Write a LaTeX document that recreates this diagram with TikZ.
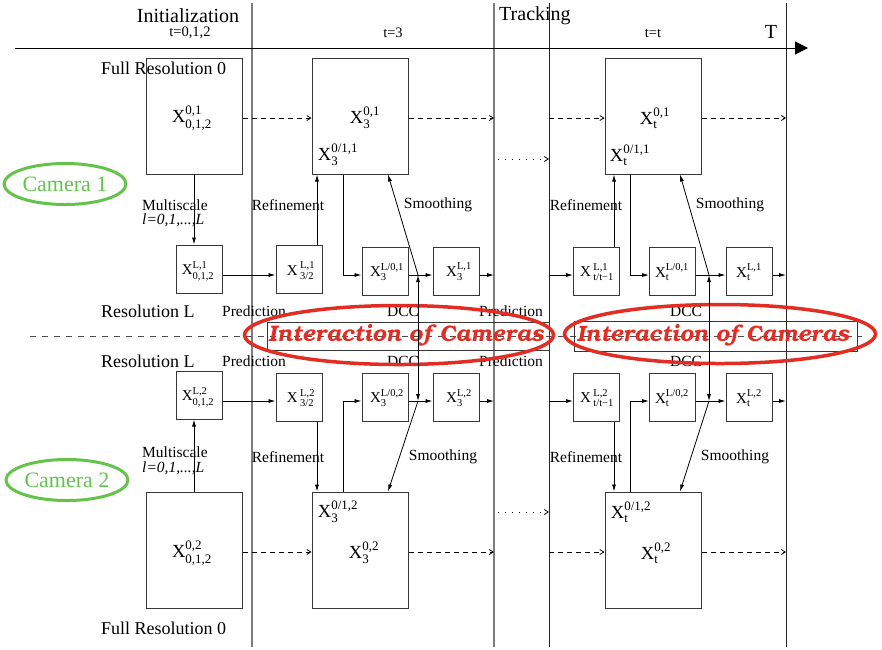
\documentclass[tikz,border=0pt]{standalone}
\usepackage[T1]{fontenc}
\usepackage{fontspec}
\setmainfont{Liberation Serif}
\usepackage{amsmath}
\usetikzlibrary{arrows.meta,calc,shapes.geometric}
\definecolor{camgreen}{RGB}{100,195,75}
\definecolor{intred}{RGB}{225,45,35}
\definecolor{vgray}{RGB}{125,125,125}
\definecolor{boxc}{RGB}{55,55,55}
\newcommand\lab[2]{$\text{X}^{\text{#1}}_{\text{#2}}$}
\newcommand\labsp[2]{$\text{X}\,^{\text{#1}}_{\text{#2}}$}
\newcommand\intfont{\fontencoding{T1}\fontfamily{pbk}\fontseries{db}\fontshape{it}\selectfont}
\tikzset{
  bigbox/.style={draw=boxc, line width=1pt, minimum width=96pt, minimum height=116pt, inner sep=0pt},
  smallbox/.style={draw=boxc, line width=1pt, minimum width=46pt, minimum height=48pt, inner sep=0pt},
  arr/.style={-{Latex[length=7pt,width=4pt]}, line width=0.8pt},
  dblarr/.style={{Latex[length=7pt,width=4pt]}-{Latex[length=7pt,width=4pt]}, line width=0.8pt},
  darr/.style={dash pattern=on 5pt off 4pt, -{Straight Barb[length=4pt,width=5pt]}, line width=0.8pt},
  dotarr/.style={dash pattern=on 1pt off 6pt, -{Straight Barb[length=4pt,width=5pt]}, line width=0.8pt},
  gline/.style={draw=vgray, line width=1.5pt},
  bline/.style={draw=black!85, line width=1pt},
  biglab/.style={inner sep=0pt, font=\fontsize{18.5}{22}\selectfont},
  smlab/.style={inner sep=0pt, font=\fontsize{15}{18}\selectfont},
  txt/.style={inner sep=0pt, font=\fontsize{15.5}{18}\selectfont},
  restxt/.style={inner sep=0pt, font=\fontsize{18}{21}\selectfont},
  head/.style={inner sep=0pt, font=\fontsize{20}{24}\selectfont},
  tlab/.style={inner sep=0pt, font=\fontsize{14.5}{16}\selectfont},
  cam/.style={ellipse, draw=camgreen, line width=3pt, minimum width=122pt, minimum height=41pt, inner sep=0pt, text=camgreen, font=\fontsize{22}{26}\selectfont},
  intell/.style={ellipse, draw=intred, line width=3.5pt, inner sep=0pt},
  intbox/.style={draw=boxc, line width=1pt, inner sep=0pt},
  inttxt/.style={inner sep=0pt, text=intred}
}
\begin{document}
\begin{tikzpicture}[x=1pt,y=-1pt]
\useasboundingbox (0,0) rectangle (882,649);
% helper coordinates
\coordinate (V1t) at (252,3); \coordinate (V1b) at (252,647);
\coordinate (V2t) at (494,3); \coordinate (V2b) at (494,647);
\coordinate (V3t) at (549,3); \coordinate (V3b) at (549,647);
\coordinate (V4t) at (786,3); \coordinate (V4b) at (786,647);
\coordinate (axL) at (15,48); \coordinate (axR) at (808,48);
\coordinate (r1) at (0,275); \coordinate (r2) at (0,401);
\coordinate (q1) at (0,118); \coordinate (q2) at (0,552);
\coordinate (xr1) at (317,0); \coordinate (xb1) at (343,0); \coordinate (xs1) at (388,0);
\coordinate (xr2) at (614,0); \coordinate (xb2) at (630,0); \coordinate (xs2) at (680,0);
\coordinate (s1) at (418,275); \coordinate (s2) at (418,401);
\coordinate (u1) at (709,275); \coordinate (u2) at (709,401);
\coordinate (dt1) at (498,159); \coordinate (dt2) at (498,512);
\coordinate (mdL) at (30,336); \coordinate (mdR) at (862,336);

% vertical lines and axis
\draw[gline] (V1t) -- (V1b);
\draw[gline] (V2t) -- (V2b);
\draw[bline] (V3t) -- (V3b);
\draw[bline] (V4t) -- (V4b);
\draw[line width=1pt, -{Triangle[length=13pt,width=13pt]}] (axL) -- (axR);

% headings
\node[head] (hInit) at (188,15.5) {Initialization};
\node[tlab] (t012) at (190,33) {t=0,1,2};
\node[tlab] (t3) at (393,33) {t=3};
\node[head, anchor=west] (hTrack) at (499,16) {Tracking};
\node[tlab] (tt) at (653,33) {t=t};
\node[head] (bigT) at (771,32) {T};

% resolution labels
\node[restxt, anchor=west] (fr1) at (101,68) {Full Resolution 0};
\node[restxt, anchor=west] (fr2) at (101,628) {Full Resolution 0};
\node[restxt, anchor=west] (rl1) at (101,311) {Resolution L};
\node[restxt, anchor=west] (rl2) at (101,361) {Resolution L};

% cameras
\node[cam] (cam1) at (65,184) {Camera 1};
\node[cam] (cam2) at (67,480) {Camera 2};

% middle dashed line
\draw[draw=black!70, line width=0.9pt, dash pattern=on 6pt off 6pt] (mdL) -- (mdR);

% big boxes camera 1
\node[bigbox] (A1) at (194,116) {};
\node[bigbox] (B1) at (360,116) {};
\node[bigbox] (C1) at (653,116) {};
\node[biglab] (lA1) at (192,118) {\lab{0,1}{0,1,2}};
\node[biglab] (lB1) at (365,118) {\lab{0,1}{3}};
\node[biglab] (lB1b) at (338,155) {\lab{0/1,1}{3}};
\node[biglab] (lC1) at (655,118) {\lab{0,1}{t}};
\node[biglab] (lC1b) at (630,155) {\lab{0/1,1}{t}};

% big boxes camera 2
\node[bigbox] (A2) at (194,550) {};
\node[bigbox] (B2) at (360,550) {};
\node[bigbox] (C2) at (653,550) {};
\node[biglab] (lA2) at (192,553) {\lab{0,2}{0,1,2}};
\node[biglab] (lB2) at (364,553) {\lab{0,2}{3}};
\node[biglab] (lB2b) at (338,512) {\lab{0/1,2}{3}};
\node[biglab] (lC2) at (656,553) {\lab{0,2}{t}};
\node[biglab] (lC2b) at (631,512) {\lab{0/1,2}{t}};

% small boxes camera 1
\node[smallbox] (a1) at (199,269) {};
\node[smallbox] (b1) at (299,269) {};
\node[smallbox] (c1) at (385,271) {};
\node[smallbox] (d1) at (456,271) {};
\node[smallbox] (e1) at (596.5,271) {};
\node[smallbox] (f1) at (672.5,271) {};
\node[smallbox] (g1) at (749,271) {};
\node[smlab] (la1) at (198,271) {\lab{L,1}{0,1,2}};
\node[smlab] (lb1) at (301,271) {\labsp{L,1}{3/2}};
\node[smlab] (lc1) at (387,272) {\lab{L/0,1}{3}};
\node[smlab] (ld1) at (459,272) {\lab{L,1}{3}};
\node[smlab] (le1) at (597,272) {\labsp{L,1}{t/t−1}};
\node[smlab] (lf1) at (672,272) {\lab{L/0,1}{t}};
\node[smlab] (lg1) at (749,272) {\lab{L,1}{t}};

% small boxes camera 2
\node[smallbox] (a2) at (199,395) {};
\node[smallbox] (b2) at (299,397) {};
\node[smallbox] (c2) at (385,397) {};
\node[smallbox] (d2) at (456,397) {};
\node[smallbox] (e2) at (596.5,397) {};
\node[smallbox] (f2) at (672.5,397) {};
\node[smallbox] (g2) at (749,397) {};
\node[smlab] (la2) at (198,397) {\lab{L,2}{0,1,2}};
\node[smlab] (lb2) at (301,398) {\labsp{L,2}{3/2}};
\node[smlab] (lc2) at (387,398) {\lab{L/0,2}{3}};
\node[smlab] (ld2) at (459,398) {\lab{L,2}{3}};
\node[smlab] (le2) at (597,398) {\labsp{L,2}{t/t−1}};
\node[smlab] (lf2) at (672,398) {\lab{L/0,2}{t}};
\node[smlab] (lg2) at (749,398) {\lab{L,2}{t}};

% text labels camera 1
\node[txt, anchor=west] (ms1) at (142,205) {Multiscale};
\node[txt, anchor=west] (ml1) at (142,220) {\textit{l=0,1,...,L}};
\node[txt] (rf1a) at (288,205) {Refinement};
\node[txt] (sm1a) at (438,205) {Smoothing};
\node[txt] (rf1b) at (586,205) {Refinement};
\node[txt] (sm1b) at (730,205) {Smoothing};
% text labels camera 2
\node[txt, anchor=west] (ms2) at (142,452) {Multiscale};
\node[txt, anchor=west] (ml2) at (142,468) {\textit{l=0,1,...,L}};
\node[txt] (rf2a) at (288,457) {Refinement};
\node[txt] (sm2a) at (443,457) {Smoothing};
\node[txt] (rf2b) at (586,457) {Refinement};
\node[txt] (sm2b) at (735,457) {Smoothing};

% prediction / DCC labels
\node[txt] (p1a) at (254,311) {Prediction};
\node[txt] (p1b) at (511,311) {Prediction};
\node[txt] (dc1a) at (403,311) {DCC};
\node[txt] (dc1b) at (686,311) {DCC};
\node[txt] (p2a) at (254,361) {Prediction};
\node[txt] (p2b) at (511,361) {Prediction};
\node[txt] (dc2a) at (403,361) {DCC};
\node[txt] (dc2b) at (686,361) {DCC};

% interaction boxes
\node[intbox, minimum width=282pt, minimum height=28pt] (R1) at (408,336) {};
\node[intbox, minimum width=283pt, minimum height=30pt] (R2) at (715.5,336) {};
\node[intell, minimum width=309pt, minimum height=59pt] (E1) at (399,335) {};
\node[intell, minimum width=311pt, minimum height=59pt] (E2) at (720,334) {};
\node[inttxt] (I1) at (406,335) {\resizebox{275pt}{!}{\intfont Interaction of Cameras}};
\node[inttxt] (I2) at (713,335) {\resizebox{272pt}{!}{\intfont Interaction of Cameras}};

% dashed arrows full resolution
\draw[darr] (A1.east |- q1) -- (B1.west |- q1);
\draw[darr] (B1.east |- q1) -- (V2t |- q1);
\draw[darr] (V3t |- q1) -- (C1.west |- q1);
\draw[darr] (C1.east |- q1) -- (V4t |- q1);
\draw[darr] (A2.east |- q2) -- (B2.west |- q2);
\draw[darr] (B2.east |- q2) -- (V2t |- q2);
\draw[darr] (V3t |- q2) -- (C2.west |- q2);
\draw[darr] (C2.east |- q2) -- (V4t |- q2);
\draw[dotarr] (dt1) -- (V3t |- dt1);
\draw[dotarr] (dt2) -- (V3t |- dt2);

% multiscale
\draw[arr] (A1.south) -- (A1.south |- a1.north);
\draw[arr] (A2.north) -- (A2.north |- a2.south);

% camera 1 row
\draw[arr] (a1.east |- r1) -- (b1.west |- r1);
\draw[arr] (b1.north -| xr1) -- (B1.south -| xr1);
\draw[arr] (B1.south -| xb1) |- (c1.west |- r1);
\draw[arr] (c1.east |- r1) -- (d1.west |- r1);
\draw[arr] (s1) -- (B1.south -| xs1);
\draw[arr] (d1.east |- r1) -- (V2t |- r1);
\draw[arr] (V3t |- r1) -- (e1.west |- r1);
\draw[arr] (e1.north -| xr2) -- (C1.south -| xr2);
\draw[arr] (C1.south -| xb2) |- (f1.west |- r1);
\draw[arr] (f1.east |- r1) -- (g1.west |- r1);
\draw[arr] (u1) -- (C1.south -| xs2);
\draw[arr] (g1.east |- r1) -- (V4t |- r1);

% camera 2 row
\draw[arr] (a2.east |- r2) -- (b2.west |- r2);
\draw[arr] (b2.south -| xr1) -- (B2.north -| xr1);
\draw[arr] (B2.north -| xb1) |- (c2.west |- r2);
\draw[arr] (c2.east |- r2) -- (d2.west |- r2);
\draw[arr] (s2) -- (B2.north -| xs1);
\draw[arr] (d2.east |- r2) -- (V2t |- r2);
\draw[arr] (V3t |- r2) -- (e2.west |- r2);
\draw[arr] (e2.south -| xr2) -- (C2.north -| xr2);
\draw[arr] (C2.north -| xb2) |- (f2.west |- r2);
\draw[arr] (f2.east |- r2) -- (g2.west |- r2);
\draw[arr] (u2) -- (C2.north -| xs2);
\draw[arr] (g2.east |- r2) -- (V4t |- r2);

% DCC links
\draw[dblarr] (s1) -- (s2);
\draw[dblarr] (u1) -- (u2);
\end{tikzpicture}
\end{document}
